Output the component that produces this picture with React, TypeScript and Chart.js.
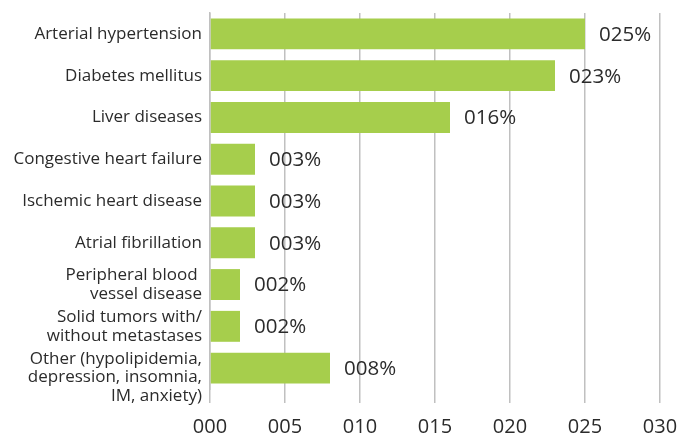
import React, { useEffect, useRef } from "react";
import { Chart, registerables } from "chart.js";

Chart.register(...registerables);

const categories: (string | string[])[] = [
  "Arterial hypertension",
  "Diabetes mellitus",
  "Liver diseases",
  "Congestive heart failure",
  "Ischemic heart disease",
  "Atrial fibrillation",
  ["Peripheral blood ", "vessel disease"],
  ["Solid tumors with/", "without metastases"],
  ["", "Other (hypolipidemia,", "depression, insomnia,", "IM, anxiety)"],
];
const values: number[] = [25, 23, 16, 3, 3, 3, 2, 2, 8];
const tickValues: number[] = [0, 5, 10, 15, 20, 25, 30];

const pad3 = (v: number) => String(Math.round(v)).padStart(3, "0");

const FONT = "'Open Sans', 'Noto Sans', sans-serif";

const valueLabels = {
  id: "valueLabels",
  afterDatasetsDraw(chart: any) {
    const { ctx } = chart;
    const meta = chart.getDatasetMeta(0);
    ctx.save();
    ctx.font = `20.5px ${FONT}`;
    ctx.fillStyle = "#2b2b2b";
    ctx.textAlign = "left";
    ctx.textBaseline = "middle";
    meta.data.forEach((bar: any, i: number) => {
      ctx.fillText(pad3(values[i]) + "%", bar.x + 14, bar.y + 1);
    });
    ctx.restore();
  },
};

export default function App() {
  const ref = useRef<HTMLCanvasElement>(null);
  useEffect(() => {
    if (!ref.current) return;
    const chart = new Chart(ref.current, {
      type: "bar",
      data: {
        labels: categories as any,
        datasets: [
          {
            data: values,
            backgroundColor: "#a6ce4c",
            borderWidth: 0,
            barPercentage: 0.74,
            categoryPercentage: 1,
          },
        ],
      },
      options: {
        indexAxis: "y",
        animation: false,
        responsive: true,
        maintainAspectRatio: false,
        layout: { padding: { top: 13, right: 21, bottom: 0, left: 0 } },
        plugins: {
          legend: { display: false },
          tooltip: { enabled: false },
        },
        scales: {
          x: {
            min: 0,
            max: 30,
            afterBuildTicks: (scale: any) => {
              scale.ticks = tickValues.map((v) => ({ value: v }));
            },
            afterFit: (scale: any) => {
              scale.height = 46;
              scale.paddingLeft = 0;
              scale.paddingRight = 0;
            },
            ticks: {
              callback: (v: any) => pad3(Number(v)),
              color: "#2b2b2b",
              font: { family: FONT, size: 20 },
              padding: 12,
              maxRotation: 0,
            },
            grid: {
              color: "#c0c0c0",
              lineWidth: 1.5,
              drawTicks: true,
              tickLength: 14,
            },
            border: { display: false },
          },
          y: {
            afterFit: (scale: any) => {
              scale.width = 210;
              scale.paddingTop = 0;
              scale.paddingBottom = 0;
            },
            ticks: {
              color: "#2b2b2b",
              font: { family: FONT, size: 17, lineHeight: 1.1 },
              padding: 8,
              autoSkip: false,
            },
            grid: { display: false, drawTicks: false },
            border: { display: true, color: "#c0c0c0", width: 1.5 },
          },
        },
      },
      plugins: [valueLabels],
    });
    return () => chart.destroy();
  }, []);
  return (
    <div style={{ position: "fixed", left: 0, top: 0, width: 681, height: 435, background: "#fff" }}>
      <canvas ref={ref} />
    </div>
  );
}
